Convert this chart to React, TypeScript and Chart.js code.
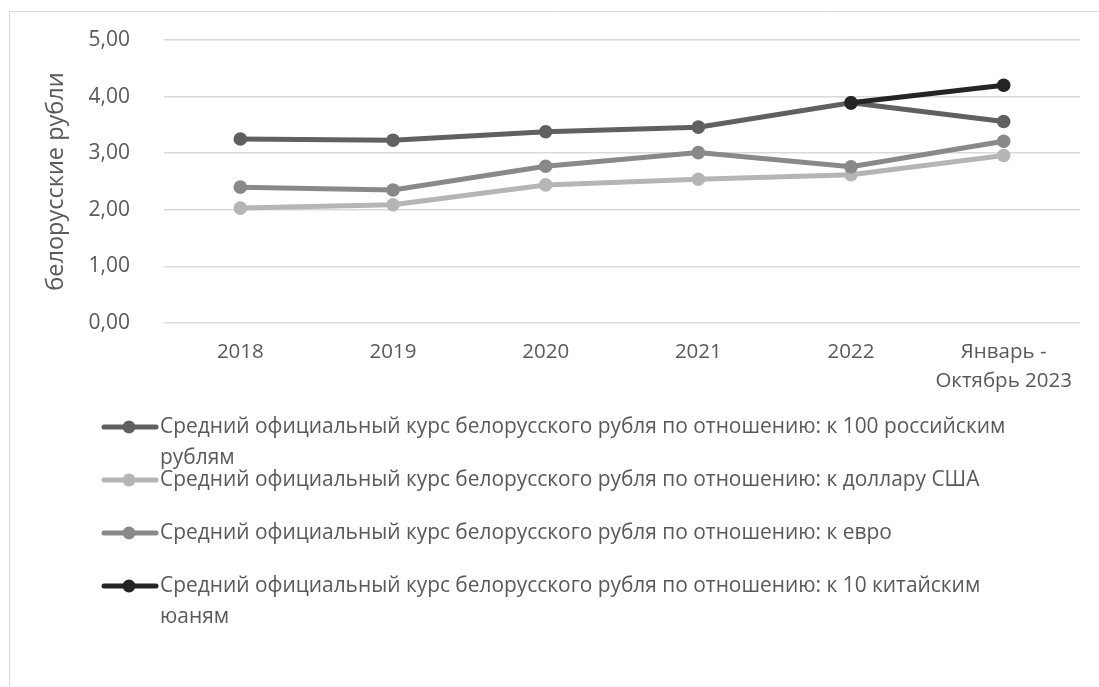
import React, { useEffect, useRef } from "react";
import { Chart, registerables } from "chart.js";

Chart.register(...registerables);

const categories: (string | string[])[] = ["2018", "2019", "2020", "2021", "2022", ["Январь -", "Октябрь 2023"]];
const rubValues = [3.25, 3.23, 3.38, 3.46, 3.89, 3.56];
const usdValues = [2.03, 2.09, 2.44, 2.54, 2.62, 2.96];
const eurValues = [2.40, 2.35, 2.77, 3.01, 2.76, 3.21];
const cnyValues = [null, null, null, null, 3.89, 4.20];

const seriesNames = [
  "Средний официальный курс белорусского рубля по отношению: к 100 российским рублям",
  "Средний официальный курс белорусского рубля по отношению: к доллару США",
  "Средний официальный курс белорусского рубля по отношению: к евро",
  "Средний официальный курс белорусского рубля по отношению: к 10 китайским юаням",
];
const legendLines = [
  ["Средний официальный курс белорусского рубля по отношению: к 100 российским", "рублям"],
  ["Средний официальный курс белорусского рубля по отношению: к доллару США"],
  ["Средний официальный курс белорусского рубля по отношению: к евро"],
  ["Средний официальный курс белорусского рубля по отношению: к 10 китайским", "юаням"],
];
const seriesColors = ["#606060", "#b5b5b5", "#898989", "#242424"];
const yTitle = "белорусские рубли";

const FONT = "'Open Sans', sans-serif";
const TEXT = "#595959";

const legendPlugin = {
  id: "customLegend",
  beforeDraw(chart: any) {
    const ctx = chart.ctx;
    ctx.save();
    ctx.strokeStyle = "#d9d9d9";
    ctx.lineWidth = 1;
    ctx.beginPath();
    ctx.moveTo(9.5, 687);
    ctx.lineTo(9.5, 11.5);
    ctx.lineTo(1099, 11.5);
    ctx.stroke();
    ctx.restore();
  },
  afterDraw(chart: any) {
    const ctx = chart.ctx;
    const ys = [427, 480, 533, 586];
    ctx.save();
    ctx.font = `20.9px ${FONT}`;
    ctx.textBaseline = "middle";
    ctx.textAlign = "left";
    legendLines.forEach((lines, i) => {
      const y = ys[i];
      const c = seriesColors[i];
      ctx.strokeStyle = c;
      ctx.lineWidth = 5;
      ctx.lineCap = "round";
      ctx.beginPath();
      ctx.moveTo(104, y);
      ctx.lineTo(156, y);
      ctx.stroke();
      ctx.fillStyle = c;
      ctx.beginPath();
      ctx.arc(129, y, 6.5, 0, Math.PI * 2);
      ctx.fill();
      ctx.fillStyle = TEXT;
      lines.forEach((t, j) => ctx.fillText(t, 160, y + j * 31));
    });
    ctx.restore();
  },
};

export default function App() {
  const ref = useRef<HTMLCanvasElement>(null);
  useEffect(() => {
    if (!ref.current) return;
    const mk = (label: string, data: (number | null)[], color: string, order: number) => ({
      label,
      data,
      borderColor: color,
      backgroundColor: color,
      pointBackgroundColor: color,
      pointBorderColor: color,
      pointBorderWidth: 0,
      pointRadius: 6.8,
      borderWidth: 5,
      tension: 0,
      spanGaps: false,
      order,
    });
    const chart = new Chart(ref.current, {
      type: "line",
      data: {
        labels: categories as any,
        datasets: [
          mk(seriesNames[0], rubValues, seriesColors[0], 3),
          mk(seriesNames[1], usdValues, seriesColors[1], 2),
          mk(seriesNames[2], eurValues, seriesColors[2], 1),
          mk(seriesNames[3], cnyValues, seriesColors[3], 0),
        ],
      },
      options: {
        animation: false,
        responsive: false,
        layout: { padding: { left: 0, top: 40, right: 19, bottom: 284 } },
        plugins: { legend: { display: false }, tooltip: { enabled: false } },
        scales: {
          x: {
            offset: true,
            grid: { display: false, drawTicks: false },
            border: { display: false },
            afterFit: (s: any) => { s.height = 80; s.paddingTop = 0; s.paddingBottom = 0; },
            ticks: {
              color: TEXT,
              font: { family: FONT, size: 20.5, lineHeight: 1.45 },
              padding: 14,
              maxRotation: 0,
              autoSkip: false,
            },
          },
          y: {
            min: 0,
            max: 5,
            grid: { color: "#d9d9d9", lineWidth: 1.5, drawTicks: false },
            border: { display: false },
            afterFit: (s: any) => { s.width = 164; s.paddingTop = 0; s.paddingBottom = 0; },
            ticks: {
              stepSize: 1,
              color: TEXT,
              font: { family: FONT, size: 21 },
              padding: 34,
              callback: (v: any) => Number(v).toFixed(2).replace(".", ","),
            },
            title: {
              display: true,
              text: yTitle,
              color: TEXT,
              font: { family: FONT, size: 23.5 },
              padding: { top: 42, bottom: 0 },
            },
          },
        },
      },
      plugins: [legendPlugin],
    });
    return () => chart.destroy();
  }, []);
  return (
    <div style={{ position: "absolute", left: 0, top: 0, width: 1099, height: 687, background: "#fff" }}>
      <canvas ref={ref} width={1099} height={687} style={{ display: "block" }} />
    </div>
  );
}
